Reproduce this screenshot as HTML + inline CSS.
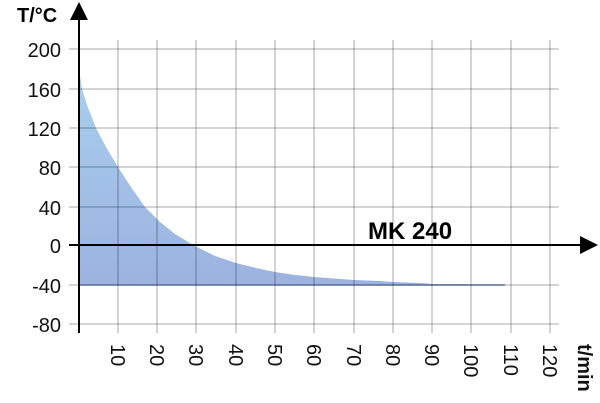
<!DOCTYPE html>
<html><head><meta charset="utf-8"><style>
html,body{margin:0;padding:0;background:#fff;}
svg{display:block;font-family:"Liberation Sans",sans-serif;}
</style></head><body>
<svg width="600" height="403" viewBox="0 0 600 403">
<defs>
<linearGradient id="g" x1="0" y1="0" x2="0" y2="1">
<stop offset="0" stop-color="#a8d0ee"/>
<stop offset="1" stop-color="#9cb2e0"/>
</linearGradient>
</defs>
<polygon fill="url(#g)" points="79,69 82,89 87,105 96,128 106,147 118,167 131,187 145,207 160,222 175,234 193,245 215,256 236,263 256,268 275,272 295,275 314,277 340,279 354,280 380,281 393,282 420,283 432,284 460,284 471,284.5 505,285 505,285 79,285"/>
<line x1="79" y1="285" x2="505" y2="285" stroke="#7a8fc0" stroke-width="1.5"/>
<g stroke="rgba(0,0,0,0.17)" stroke-width="2">
<line x1="118" y1="40" x2="118" y2="333"/><line x1="157" y1="40" x2="157" y2="333"/>
<line x1="196" y1="40" x2="196" y2="333"/><line x1="236" y1="40" x2="236" y2="333"/>
<line x1="275" y1="40" x2="275" y2="333"/><line x1="314" y1="40" x2="314" y2="333"/>
<line x1="354" y1="40" x2="354" y2="333"/><line x1="393" y1="40" x2="393" y2="333"/>
<line x1="432" y1="40" x2="432" y2="333"/><line x1="471" y1="40" x2="471" y2="333"/>
<line x1="511" y1="40" x2="511" y2="333"/><line x1="550" y1="40" x2="550" y2="333"/>
<line x1="69" y1="49" x2="559" y2="49"/><line x1="69" y1="89" x2="559" y2="89"/>
<line x1="69" y1="128" x2="559" y2="128"/><line x1="69" y1="167" x2="559" y2="167"/>
<line x1="69" y1="207" x2="559" y2="207"/><line x1="69" y1="285" x2="559" y2="285"/>
<line x1="69" y1="324" x2="559" y2="324"/>
</g>
<line x1="79" y1="18" x2="79" y2="333" stroke="#000" stroke-width="2"/>
<polygon points="79,2 70,20 88,20" fill="#000"/>
<line x1="69" y1="245" x2="582" y2="245" stroke="#000" stroke-width="2"/>
<polygon points="598,245 580,236 580,254" fill="#000"/>
<g font-size="20" text-anchor="end" fill="#111">
<text x="61" y="57">200</text><text x="61" y="97">160</text><text x="61" y="136">120</text>
<text x="61" y="175">80</text><text x="61" y="215">40</text><text x="61" y="253">0</text>
<text x="61" y="293">-40</text><text x="61" y="332">-80</text>
</g>
<text x="17" y="22" font-size="20" font-weight="bold">T/°C</text>
<text x="368" y="239" font-size="24" font-weight="bold">MK 240</text>
<g font-size="20" fill="#111">
<text transform="translate(111,344) rotate(90)">10</text>
<text transform="translate(150,344) rotate(90)">20</text>
<text transform="translate(189,344) rotate(90)">30</text>
<text transform="translate(229,344) rotate(90)">40</text>
<text transform="translate(268,344) rotate(90)">50</text>
<text transform="translate(307,344) rotate(90)">60</text>
<text transform="translate(347,344) rotate(90)">70</text>
<text transform="translate(386,344) rotate(90)">80</text>
<text transform="translate(425,344) rotate(90)">90</text>
<text transform="translate(464,344) rotate(90)">100</text>
<text transform="translate(504,344) rotate(90)">110</text>
<text transform="translate(543,344) rotate(90)">120</text>
<text transform="translate(578,344) rotate(90)" font-weight="bold" font-size="20">t/min</text>
</g>
</svg>
</body></html>
